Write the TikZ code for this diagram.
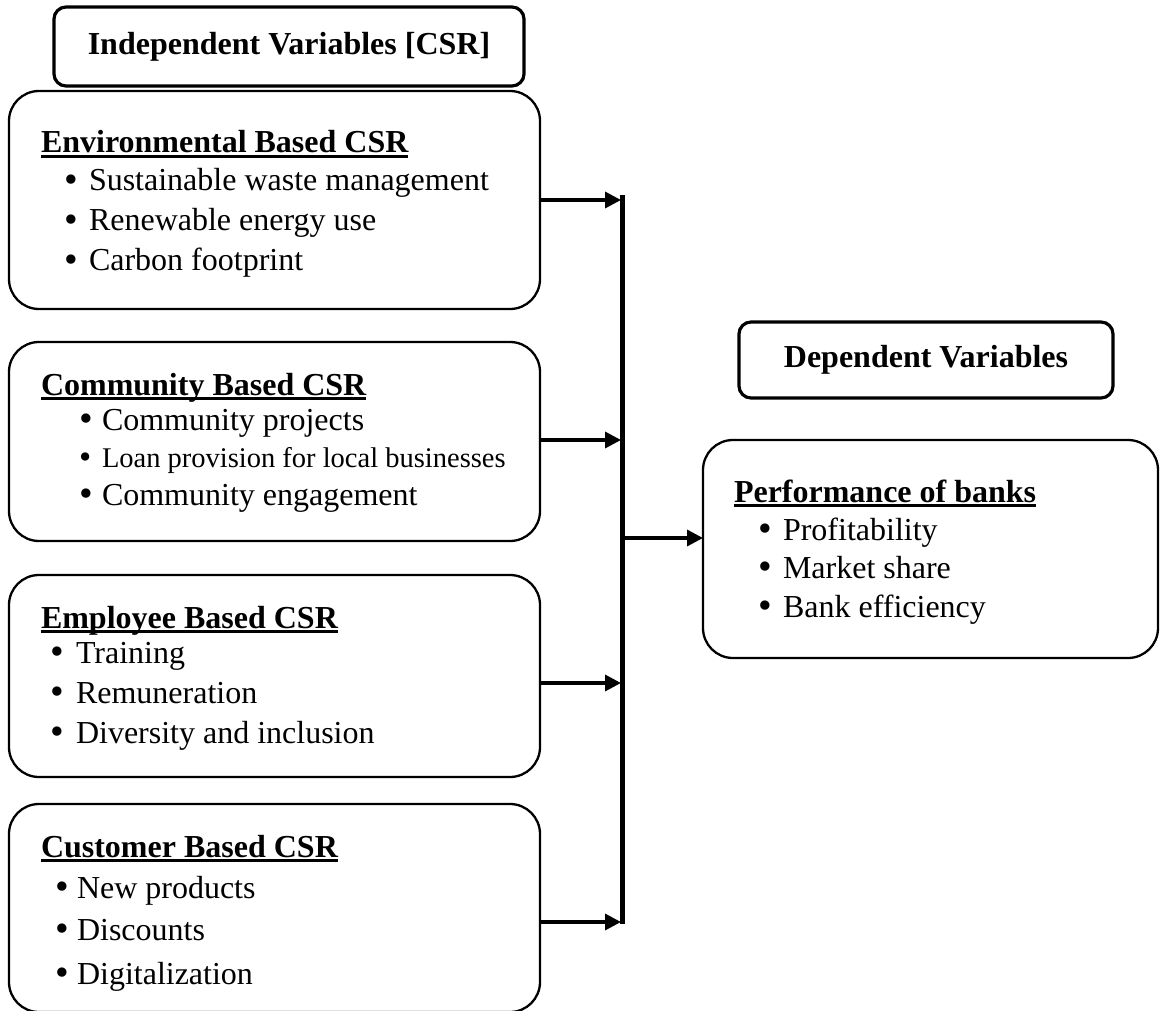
\documentclass[tikz,border=0pt]{standalone}
\usepackage{fontspec}
\usepackage{graphicx}
\setmainfont{Liberation Serif}
\usetikzlibrary{arrows.meta}
\newcommand{\fsz}{\fontsize{32}{38}\selectfont}
\newcommand{\fsm}{\fontsize{28.5}{34}\selectfont}
\newcommand{\hul}[1]{\setbox0\hbox{\bfseries #1}\rlap{\rule[-5pt]{\wd0}{2.8pt}}\box0}
\newcommand{\bdot}{\smash{\raisebox{-0.05em}{\scalebox{1.22}{\textbullet}}}}
\newcommand{\bitem}[2]{\makebox[#1][l]{\hspace{-1pt}\bdot}#2}
\begin{document}
\begin{tikzpicture}[x=1pt,y=-1pt,
  box/.style={draw,line width=2.3pt,rounded corners=30pt,inner sep=0pt,outer sep=0pt,anchor=north west},
  hdr/.style={draw,line width=3.2pt,rounded corners=12pt,inner sep=0pt,outer sep=0pt,font=\fsz\bfseries},
  txt/.style={anchor=base west,inner sep=0pt,outer sep=0pt,font=\fsz},
  arr/.style={line width=3.4pt,-{Triangle[length=16pt,width=16pt]}}]
\useasboundingbox (0,0) rectangle (1160,1011);

% headers
\node[hdr,minimum width=470,minimum height=79] (ivh) at (289,46.5) {Independent Variables [CSR]};
\node[hdr,minimum width=374,minimum height=76] (dvh) at (926,360) {Dependent Variables};

% boxes
\node[box,minimum width=531,minimum height=218] (env) at (9,91) {};
\node[box,minimum width=531,minimum height=199] (com) at (9,342) {};
\node[box,minimum width=531,minimum height=202] (emp) at (9,575) {};
\node[box,minimum width=531,minimum height=208] (cus) at (9,804) {};
\node[box,minimum width=455,minimum height=218] (perf) at (703,440) {};

% environmental
\node[txt] (envh) at (41,153) {\hul{Environmental Based CSR}};
\node[txt] (env1) at (65,191) {\bitem{24pt}{Sustainable waste management}};
\node[txt] (env2) at (65,231) {\bitem{24pt}{Renewable energy use}};
\node[txt] (env3) at (65,271) {\bitem{24pt}{Carbon footprint}};

% community
\node[txt] (comh) at (41,395) {\hul{Community Based CSR}};
\node[txt] (com1) at (80,430) {\bitem{22pt}{Community projects}};
\node[txt,font=\fsm] (com2) at (80,467) {\bitem{22pt}{Loan provision for local businesses}};
\node[txt] (com3) at (80,505) {\bitem{22pt}{Community engagement}};

% employee
\node[txt] (emph) at (41,628) {\hul{Employee Based CSR}};
\node[txt] (emp1) at (51,663) {\bitem{25pt}{Training}};
\node[txt] (emp2) at (51,703) {\bitem{25pt}{Remuneration}};
\node[txt] (emp3) at (51,743) {\bitem{25pt}{Diversity and inclusion}};

% customer
\node[txt] (cush) at (41,857) {\hul{Customer Based CSR}};
\node[txt] (cus1) at (56,898) {\bitem{21pt}{New products}};
\node[txt] (cus2) at (56,940) {\bitem{21pt}{Discounts}};
\node[txt] (cus3) at (56,984) {\bitem{21pt}{Digitalization}};

% performance
\node[txt] (perfh) at (734,502) {\hul{Performance of banks}};
\node[txt] (perf1) at (759,540) {\bitem{24pt}{Profitability}};
\node[txt] (perf2) at (759,578) {\bitem{24pt}{Market share}};
\node[txt] (perf3) at (759,617) {\bitem{24pt}{Bank efficiency}};

% trunk and arrows
\coordinate (ttop) at (622.5,195);
\coordinate (tbot) at (622.5,924);
\draw[line width=4.5pt] (ttop) -- (tbot);
\coordinate (a1) at (621,200);
\coordinate (a2) at (621,440);
\coordinate (a3) at (621,683);
\coordinate (a4) at (621,922);
\coordinate (p0) at (624,538);
\draw[arr] (env.east |- a1) -- (a1);
\draw[arr] (com.east |- a2) -- (a2);
\draw[arr] (emp.east |- a3) -- (a3);
\draw[arr] (cus.east |- a4) -- (a4);
\draw[arr] (p0) -- (perf.west |- p0);
\end{tikzpicture}
\end{document}
